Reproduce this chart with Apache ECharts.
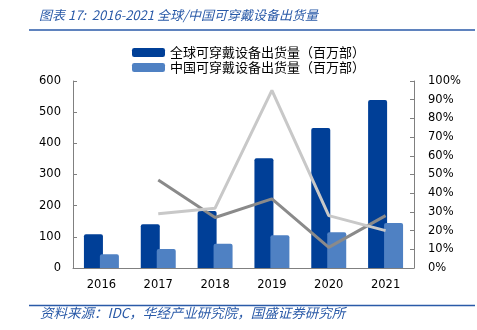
<!DOCTYPE html>
<html><head><meta charset="utf-8">
<script src="https://cdn.jsdelivr.net/npm/echarts@6/dist/echarts.min.js"></script>
<style>html,body{margin:0;padding:0;background:#fff}#c{width:477px;height:330px}</style>
</head><body><div id="c"></div>
<script>
const years = ['2016','2017','2018','2019','2020','2021'];
const globalShip = [108, 140, 183, 352, 449, 539];
const chinaShip = [44, 61, 78, 105, 115, 144];
const lineDark = [null, 47, 27, 37, 11, 28];
const lineLight = [null, 29, 32, 95, 28, 20];
const nameGlobal = '全球可穿戴设备出货量（百万部）';
const nameChina = '中国可穿戴设备出货量（百万部）';

const chart = echarts.init(document.getElementById('c'), null, {renderer:'canvas'});
const axisFont = {fontFamily:'DejaVu Sans', fontSize:11.5, color:'#000'};
chart.setOption({
  animation:false,
  grid:{left:73, right:63, top:81, bottom:62},
  legend:{
    data:[nameGlobal, nameChina], orient:'vertical', left:132, top:45, padding:0,
    itemWidth:33, itemHeight:9, itemGap:0,
    textStyle:{fontFamily:'Noto Sans CJK SC', fontSize:13, lineHeight:15, color:'#000'}
  },
  graphic:[
    {type:'text', left:39, top:9, style:{text:'图表 17:  2016-2021 全球/中国可穿戴设备出货量', fontFamily:'Noto Sans CJK SC', fontStyle:'italic', fontSize:13, fill:'#2a5aa8'}},
    {type:'line', shape:{x1:29,y1:30,x2:475,y2:30}, style:{stroke:'#2a5aa8', lineWidth:1.5}},
    {type:'line', shape:{x1:29,y1:305.5,x2:475,y2:305.5}, style:{stroke:'#2a5aa8', lineWidth:1.5}},
    {type:'text', left:40, top:306, style:{text:'资料来源：IDC，华经产业研究院，国盛证券研究所', fontFamily:'Noto Sans CJK SC', fontStyle:'italic', fontSize:13.5, fill:'#2a5aa8'}}
  ],
  xAxis:{
    type:'category', data:years, boundaryGap:true,
    axisLine:{lineStyle:{color:'#808080'}},
    axisTick:{inside:true, length:4, lineStyle:{color:'#808080'}},
    axisLabel:Object.assign({margin:11}, axisFont)
  },
  yAxis:[
    {type:'value', min:0, max:600, interval:100, splitLine:{show:false},
     axisLine:{show:true, lineStyle:{color:'#808080'}},
     axisTick:{show:true, inside:true, length:4, lineStyle:{color:'#808080'}},
     axisLabel:Object.assign({margin:12}, axisFont)},
    {type:'value', min:0, max:100, interval:10, splitLine:{show:false}, position:'right',
     axisLine:{show:true, lineStyle:{color:'#808080'}},
     axisTick:{show:true, inside:true, length:4, lineStyle:{color:'#808080'}},
     axisLabel:Object.assign({margin:14, formatter:'{value}%'}, axisFont)}
  ],
  series:[
    {name:nameGlobal, type:'bar', data:globalShip, barWidth:19, barGap:'-16%',
     itemStyle:{color:'#003f97', borderRadius:[2,2,0,0]}},
    {name:nameChina, type:'bar', data:chinaShip, barWidth:19,
     itemStyle:{color:'#4f81c3', borderRadius:[2,2,0,0]}},
    {name:'中国增速', type:'line', yAxisIndex:1, data:lineDark, symbol:'none',
     lineStyle:{color:'#8a8a8a', width:3}},
    {name:'全球增速', type:'line', yAxisIndex:1, data:lineLight, symbol:'none',
     lineStyle:{color:'#c8c8c8', width:3}}
  ]
});
</script></body></html>
